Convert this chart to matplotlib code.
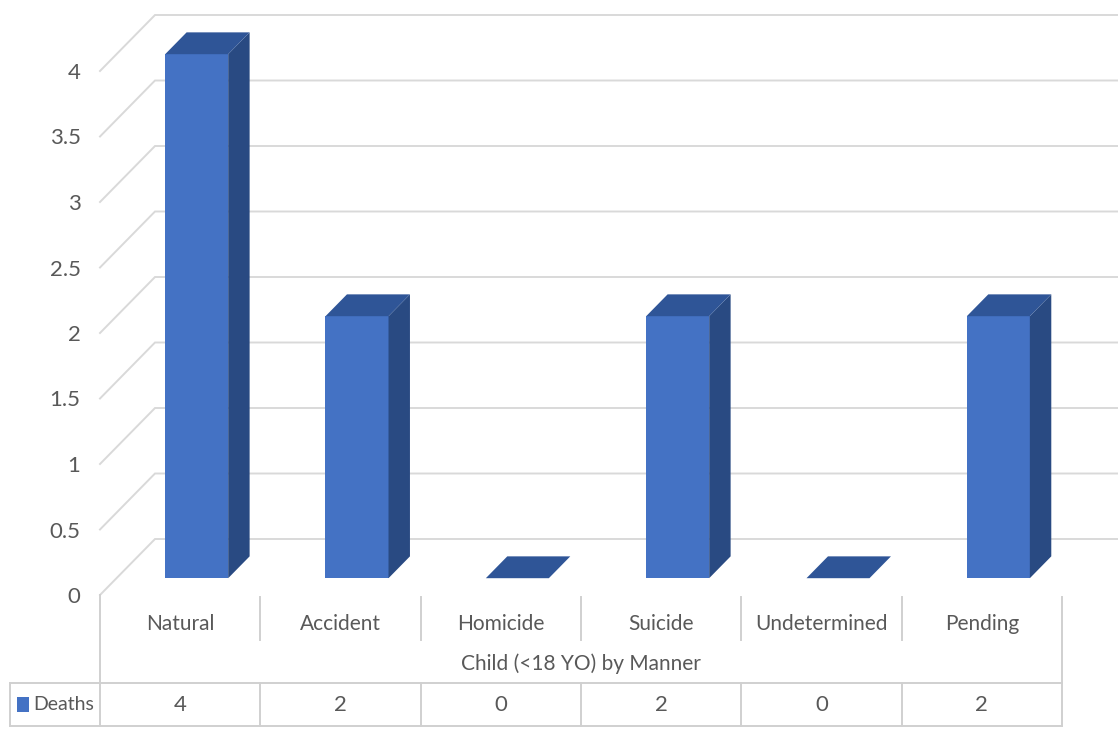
import matplotlib
matplotlib.use("Agg")
import matplotlib.pyplot as plt
from matplotlib.patches import Polygon, Rectangle
import numpy as np

# ---- data ----
categories = ["Natural", "Accident", "Homicide", "Suicide", "Undetermined", "Pending"]
deaths = [4, 2, 0, 2, 0, 2]
series_name = "Deaths"
axis_title = "Child (<18 YO) by Manner"
y_ticks = [0, 0.5, 1, 1.5, 2, 2.5, 3, 3.5, 4]
y_tick_labels = ["0", "0.5", "1", "1.5", "2", "2.5", "3", "3.5", "4"]

# ---- styling ----
FRONT = "#4472C4"
TOP = "#2F5597"
SIDE = "#294A82"
GRID = "#D9D9D9"
TEXT = "#595959"
plt.rcParams["font.family"] = ["Lato", "DejaVu Sans"]
FS = 15

W, H = 1119, 731
fig = plt.figure(figsize=(W / 100, H / 100), dpi=100)

# plot-area geometry (pixels)
X0, X1 = 100, 1062          # front plane category span
Y0 = 595                    # value 0 on the front plane
PX_PER_UNIT = 131.0
DEPTH_DX, DEPTH_DY = 55, 56  # oblique depth offset of the back wall
BAR_D0, BAR_D1 = 0.30, 0.69  # bar front/back depth fraction
BAR_W = 0.393                # bar width in category units

n = len(categories)
ytop_px = 10
ymax = (Y0 - ytop_px) / PX_PER_UNIT

ax = fig.add_axes([X0 / W, (H - Y0) / H, (X1 - X0) / W, (Y0 - ytop_px) / H])
ax.set_xlim(0, n)
ax.set_ylim(0, ymax)
for s in ax.spines.values():
    s.set_visible(False)
ax.set_xticks([])
ax.set_yticks(y_ticks)
ax.set_yticklabels(y_tick_labels, fontsize=FS + 1, color=TEXT)
ax.tick_params(axis="y", length=0, pad=14)
ax.patch.set_visible(False)

# depth offsets in data units
ddx = DEPTH_DX / ((X1 - X0) / n)
ddy = DEPTH_DY / PX_PER_UNIT


def proj(x, v, d):
    return (x + d * ddx, v + d * ddy)


# side wall diagonals and back wall gridlines
for v in y_ticks:
    a = proj(0, v, 0)
    b = proj(0, v, 1)
    c = proj(n, v, 1)
    ax.plot([a[0], b[0], c[0]], [a[1], b[1], c[1]], color=GRID, lw=1.4,
            clip_on=False, zorder=1, solid_joinstyle="miter")

# 3D columns
for i, val in enumerate(deaths):
    xl = i + 0.5 - BAR_W / 2
    xr = i + 0.5 + BAR_W / 2
    fl = proj(xl, 0, BAR_D0)
    fr = proj(xr, 0, BAR_D0)
    ftl = proj(xl, val, BAR_D0)
    ftr = proj(xr, val, BAR_D0)
    btl = proj(xl, val, BAR_D1)
    btr = proj(xr, val, BAR_D1)
    bbr = proj(xr, 0, BAR_D1)
    if val > 0:
        ax.add_patch(Polygon([fl, fr, ftr, ftl], closed=True, fc=FRONT, ec="none",
                             clip_on=False, zorder=3))
        ax.add_patch(Polygon([fr, bbr, btr, ftr], closed=True, fc=SIDE, ec="none",
                             clip_on=False, zorder=3))
    ax.add_patch(Polygon([ftl, ftr, btr, btl], closed=True, fc=TOP, ec="none",
                         clip_on=False, zorder=3))

# ---- category axis and data table (pixel overlay) ----
ov = fig.add_axes([0, 0, 1, 1])
ov.set_xlim(0, W)
ov.set_ylim(H, 0)
ov.axis("off")
ov.patch.set_visible(False)

colw = (X1 - X0) / n
bounds = [X0 + k * colw for k in range(n + 1)]
CAT_TOP, CAT_SEP_BOT = 597, 640
ROW_TOP, ROW_BOT = 683, 726
TABLE_LEFT = 10
LINE = "#D0D0D0"
lw = 1.4

# outer verticals of the category area
ov.plot([X0, X0], [CAT_TOP - 2, ROW_BOT], color=LINE, lw=lw)
ov.plot([X1, X1], [CAT_TOP, ROW_BOT], color=LINE, lw=lw)
# separators between category labels
for bx in bounds[1:-1]:
    ov.plot([bx, bx], [CAT_TOP, CAT_SEP_BOT], color=LINE, lw=lw)
    ov.plot([bx, bx], [ROW_TOP, ROW_BOT], color=LINE, lw=lw)
# data table row
ov.plot([TABLE_LEFT, X1], [ROW_TOP, ROW_TOP], color=LINE, lw=lw)
ov.plot([TABLE_LEFT, X1], [ROW_BOT, ROW_BOT], color=LINE, lw=lw)
ov.plot([TABLE_LEFT, TABLE_LEFT], [ROW_TOP, ROW_BOT], color=LINE, lw=lw)

for k, (cat, val) in enumerate(zip(categories, deaths)):
    cx = (bounds[k] + bounds[k + 1]) / 2
    ov.text(cx, 624, cat, ha="center", va="center", fontsize=FS, color=TEXT)
    ov.text(cx, 705, f"{val:g}", ha="center", va="center", fontsize=FS + 1, color=TEXT)

ov.text((X0 + X1) / 2, 664, axis_title, ha="center", va="center", fontsize=FS, color=TEXT)

# legend key inside the table
ov.add_patch(Rectangle((17, 697), 12, 15, fc=FRONT, ec="none"))
ov.text(33, 705, series_name, ha="left", va="center", fontsize=FS - 1, color=TEXT)

fig.savefig("out.png", dpi=100, facecolor="white")
